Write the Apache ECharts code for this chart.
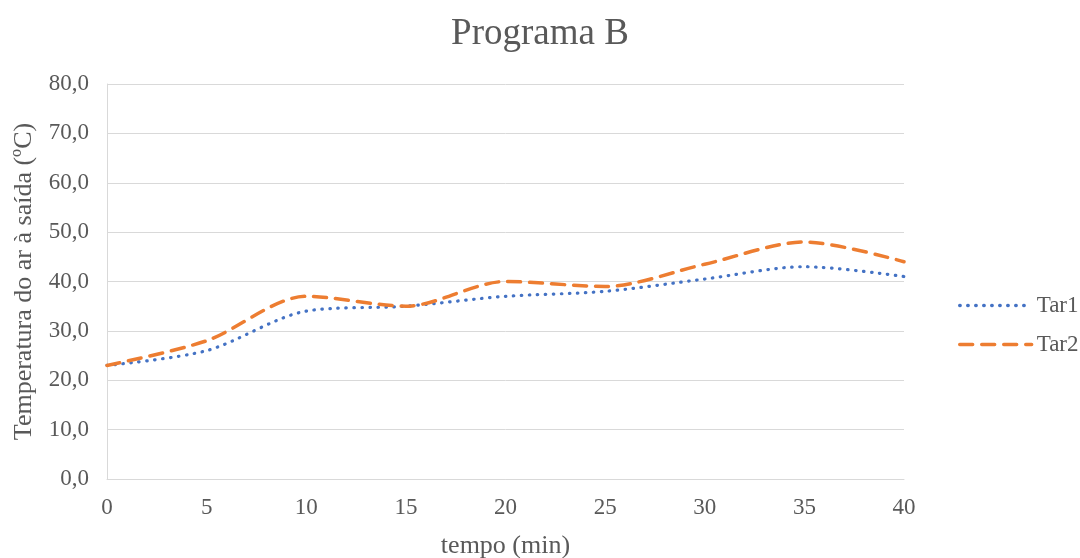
<!DOCTYPE html>
<html><head><meta charset="utf-8">
<script src="https://cdn.jsdelivr.net/npm/echarts@6/dist/echarts.min.js"></script>
<style>html,body{margin:0;padding:0;background:#fff}#c{width:1080px;height:558px}</style>
</head><body><div id="c"></div>
<script>
const categories = ['0','5','10','15','20','25','30','35','40'];
const tar1 = [23, 26, 34, 35, 37, 38, 40.5, 43, 41];
const tar2 = [23, 28, 37, 35, 40, 39, 43.5, 48, 44];
const seriesNames = ['Tar1', 'Tar2'];
const font = '"Liberation Serif", "Times New Roman", serif';
const chart = echarts.init(document.getElementById('c'));
chart.setOption({
  animation: false,
  title: { text: 'Programa B', left: 'center', top: 11, textStyle: { fontFamily: font, fontSize: 37, fontWeight: 'normal', color: '#595959' } },
  grid: { left: 107, right: 176, top: 84, bottom: 79, outerBoundsMode: 'none' },
  legend: {
    orient: 'vertical', left: 953, top: 289, itemGap: 16, itemWidth: 72, itemHeight: 24,
    textStyle: { fontFamily: font, fontSize: 23, color: '#595959' },
    itemStyle: { opacity: 0 },
    lineStyle: { width: 3.4 },
    data: seriesNames
  },
  xAxis: {
    type: 'category', data: categories, boundaryGap: false,
    name: 'tempo (min)', nameLocation: 'middle', nameGap: 54,
    nameTextStyle: { fontFamily: font, fontSize: 26, color: '#595959' },
    axisLine: { lineStyle: { color: '#d9d9d9', width: 1 } },
    axisTick: { show: false },
    axisLabel: { fontFamily: font, fontSize: 23, color: '#595959', margin: 17 },
    splitLine: { show: false }
  },
  yAxis: {
    type: 'value', min: 0, max: 80, interval: 10,
    name: 'Temperatura do ar à saída (ºC)', nameLocation: 'middle', nameGap: 70,
    nameTextStyle: { fontFamily: font, fontSize: 26, color: '#595959' },
    axisLine: { show: true, lineStyle: { color: '#d9d9d9', width: 1 } },
    axisTick: { show: false },
    axisLabel: { fontFamily: font, fontSize: 23, color: '#595959', margin: 18, formatter: v => v.toFixed(1).replace('.', ',') },
    splitLine: { lineStyle: { color: '#d9d9d9', width: 1 } }
  },
  series: [
    { name: seriesNames[0], type: 'line', data: tar1, smooth: 0.3, symbol: 'none',
      itemStyle: { color: '#4472C4' },
      lineStyle: { color: '#4472C4', width: 3.2, type: [0.5, 7.5], cap: 'round' } },
    { name: seriesNames[1], type: 'line', data: tar2, smooth: 0.3, symbol: 'none',
      itemStyle: { color: '#ED7D31' },
      lineStyle: { color: '#ED7D31', width: 3.5, type: [13, 9], cap: 'round' } }
  ]
});
</script></body></html>
